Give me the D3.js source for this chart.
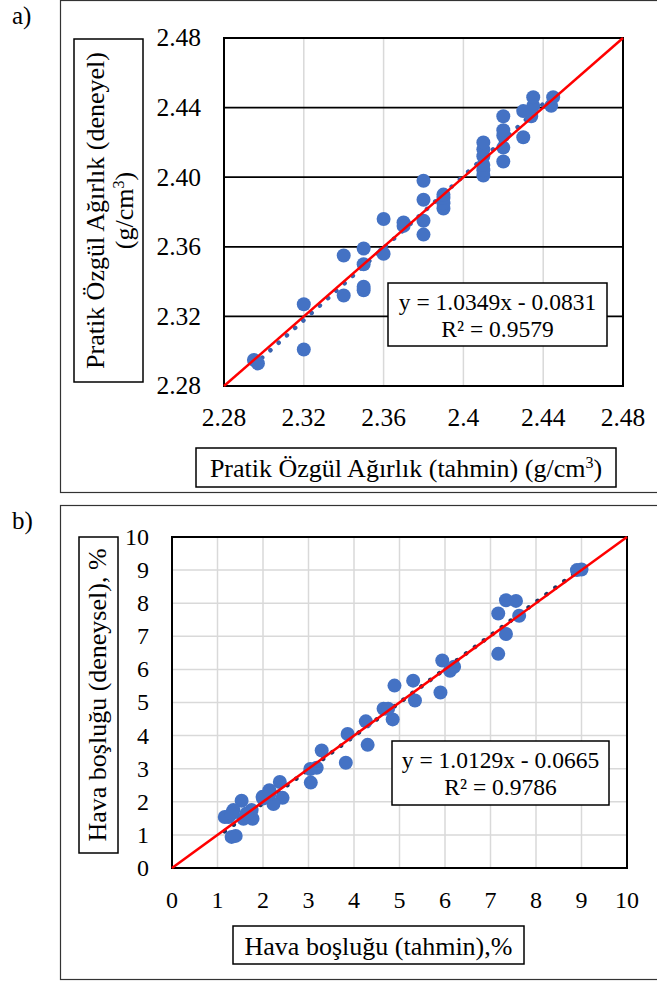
<!DOCTYPE html>
<html>
<head>
<meta charset="utf-8">
<script src="https://cdn.jsdelivr.net/npm/d3@7"></script>
<style>
  body { margin: 0; background: #fff; }
</style>
</head>
<body>
<div id="chart"></div>
<script>
// panel a: pratik ozgul agirlik (tahmin, deneysel)
var aTicksY = ["2.28", "2.32", "2.36", "2.40", "2.44", "2.48"];
var aTicksX = ["2.28", "2.32", "2.36", "2.4", "2.44", "2.48"];
var aPred = [2.295, 2.297, 2.32, 2.32, 2.34, 2.34, 2.35, 2.35, 2.35, 2.35,
             2.36, 2.36, 2.37, 2.37, 2.38, 2.38, 2.38, 2.38, 2.39, 2.39, 2.39, 2.39,
             2.41, 2.41, 2.41, 2.41, 2.41, 2.41, 2.42, 2.42, 2.42, 2.42, 2.42,
             2.43, 2.43, 2.434, 2.435, 2.435, 2.444, 2.445];
var aExp  = [2.295, 2.293, 2.301, 2.327, 2.332, 2.355, 2.335, 2.337, 2.350, 2.359,
             2.356, 2.376, 2.374, 2.372, 2.367, 2.375, 2.387, 2.398, 2.382, 2.385, 2.388, 2.390,
             2.401, 2.404, 2.407, 2.412, 2.416, 2.420, 2.409, 2.417, 2.424, 2.427, 2.435,
             2.423, 2.438, 2.435, 2.441, 2.446, 2.441, 2.446];
var aFit = [1.0349, -0.0831];

// panel b: hava boslugu (tahmin, deneysel)
var bTicks = ["0", "1", "2", "3", "4", "5", "6", "7", "8", "9", "10"];
var bPred = [8.9, 9.0, 7.34, 7.56, 7.17, 7.63, 7.34, 7.17, 5.94, 6.11, 6.2, 5.9,
             5.3, 5.34, 4.89, 4.85, 4.65, 4.75, 4.26, 4.3, 3.86, 3.82,
             3.29, 3.18, 3.04, 3.05, 2.37, 2.43, 2.14, 2.23, 1.99, 2.0, 2.15,
             1.77, 1.75, 1.53, 1.57, 1.35, 1.24, 1.31, 1.4, 1.16, 1.64, 1.31];
var bExp  = [9.0, 9.02, 8.09, 8.07, 7.69, 7.62, 7.07, 6.47, 6.27, 5.96, 6.08, 5.3,
             5.66, 5.06, 5.51, 4.49, 4.81, 4.81, 4.43, 3.72, 4.05, 3.18,
             3.55, 3.03, 2.99, 2.58, 2.6, 2.12, 2.35, 1.93, 2.15, 2.1, 2.25,
             1.49, 1.75, 2.03, 1.49, 1.75, 1.54, 0.94, 0.97, 1.54, 1.65, 1.64];
var bFit = [1.0129, -0.0665];

var W = 657, H = 982;
var FONT = "'Liberation Serif', 'Times New Roman', Times, serif";

var svg = d3.select("#chart").append("svg")
    .attr("width", W)
    .attr("height", H)
    .attr("font-family", FONT);

svg.append("rect").attr("width", W).attr("height", H).attr("fill", "#fff");

function txt(sel, size) {
  return sel.append("text")
      .style("font-family", FONT)
      .style("font-size", size + "px")
      .attr("fill", "#000");
}

function panel(p) {
  var g = svg.append("g");

  // outer frame
  g.append("rect")
      .attr("x", 60.5).attr("y", p.frameTop + 0.5)
      .attr("width", 620).attr("height", p.frameH)
      .attr("fill", "none").attr("stroke", "#333").attr("stroke-width", 1.2);

  txt(g, 25).attr("x", 12).attr("y", p.frameTop + 24).text(p.tag);

  var x = d3.scaleLinear().domain(p.domain).range([p.left, p.right]);
  var y = d3.scaleLinear().domain(p.domain).range([p.bottom, p.top]);

  // vertical grid (gray)
  g.append("g").selectAll("line")
      .data(p.ticksX.slice(1, -1))
      .enter().append("line")
      .attr("x1", function(d) { return x(+d); })
      .attr("x2", function(d) { return x(+d); })
      .attr("y1", p.top).attr("y2", p.bottom)
      .attr("stroke", "#d9d9d9").attr("stroke-width", 1.5);

  // horizontal grid
  g.append("g").selectAll("line")
      .data(p.ticksY.slice(1, -1))
      .enter().append("line")
      .attr("x1", p.left).attr("x2", p.right)
      .attr("y1", function(d) { return y(+d); })
      .attr("y2", function(d) { return y(+d); })
      .attr("stroke", p.hGrid).attr("stroke-width", p.hGridW);

  // plot border
  g.append("rect")
      .attr("x", p.left).attr("y", p.top)
      .attr("width", p.right - p.left).attr("height", p.bottom - p.top)
      .attr("fill", "none").attr("stroke", "#000").attr("stroke-width", 2);

  // tick labels
  p.ticksY.forEach(function(d) {
    txt(g, p.tickSize)
        .attr("x", p.left - p.yLabGap)
        .attr("y", y(+d) + p.tickSize * 0.33)
        .attr("text-anchor", "end")
        .text(d);
  });
  p.ticksX.forEach(function(d) {
    txt(g, p.tickSize)
        .attr("x", x(+d))
        .attr("y", p.xLabY)
        .attr("text-anchor", "middle")
        .text(d);
  });

  // trendline (dotted)
  var x0 = d3.min(p.pred), x1 = d3.max(p.pred);
  g.append("line")
      .attr("x1", x(x0)).attr("y1", y(p.fit[0] * x0 + p.fit[1]))
      .attr("x2", x(x1)).attr("y2", y(p.fit[0] * x1 + p.fit[1]))
      .attr("stroke", p.trendColor).attr("stroke-width", 4.5)
      .attr("stroke-linecap", "round")
      .attr("stroke-dasharray", "0.1,11");

  // points
  g.append("g").selectAll("circle")
      .data(d3.range(p.pred.length))
      .enter().append("circle")
      .attr("cx", function(i) { return x(p.pred[i]); })
      .attr("cy", function(i) { return y(p.exp[i]); })
      .attr("r", 7)
      .attr("fill", "#4472c4");

  // 1:1 line
  g.append("line")
      .attr("x1", x(p.domain[0])).attr("y1", y(p.domain[0]))
      .attr("x2", x(p.domain[1])).attr("y2", y(p.domain[1]))
      .attr("stroke", "#ff0000").attr("stroke-width", 2.5);

  // equation box
  var e = p.eq;
  g.append("rect")
      .attr("x", e.x).attr("y", e.y).attr("width", e.w).attr("height", e.h)
      .attr("fill", "#fff").attr("stroke", "#000").attr("stroke-width", 1.5);
  var cx = e.x + e.w / 2;
  txt(g, 23.5).attr("x", cx).attr("y", e.y + 27)
      .attr("text-anchor", "middle")
      .text("y = " + p.fit[0].toFixed(4) + "x - " + Math.abs(p.fit[1]).toFixed(4));
  txt(g, 23.5).attr("x", cx).attr("y", e.y + 54)
      .attr("text-anchor", "middle")
      .text("R² = " + p.r2);

  // x title
  var xt = p.xTitle;
  g.append("rect")
      .attr("x", xt.x).attr("y", xt.y).attr("width", xt.w).attr("height", xt.h)
      .attr("fill", "#fff").attr("stroke", "#000").attr("stroke-width", 1.5);
  var t = txt(g, 26).attr("x", xt.x + xt.w / 2).attr("y", xt.y + 29)
      .attr("text-anchor", "middle");
  t.append("tspan").text(xt.text);
  if (xt.sup) {
    t.append("tspan").attr("dy", -9).style("font-size", "16px").text("3");
    t.append("tspan").attr("dy", 9).text(")");
  }

  // y title
  var yt = p.yTitle;
  g.append("rect")
      .attr("x", yt.x).attr("y", yt.y).attr("width", yt.w).attr("height", yt.h)
      .attr("fill", "#fff").attr("stroke", "#000").attr("stroke-width", 1.5);
  yt.lines.forEach(function(ln) {
    var tt = txt(g, 26)
        .attr("transform", "translate(" + ln.bx + "," + (yt.y + yt.h / 2) + ") rotate(-90)")
        .attr("text-anchor", "middle");
    tt.append("tspan").text(ln.text);
    if (ln.sup) {
      tt.append("tspan").attr("dy", -9).style("font-size", "16px").text("3");
      tt.append("tspan").attr("dy", 9).text(")");
    }
  });
}

panel({
  tag: "a)", frameTop: 0, frameH: 492,
  domain: [2.28, 2.48], left: 224, right: 623, top: 38, bottom: 386,
  ticksX: aTicksX, ticksY: aTicksY, tickSize: 25.5, yLabGap: 23, xLabY: 426,
  hGrid: "#000", hGridW: 1.8,
  pred: aPred, exp: aExp, fit: aFit, r2: "0.9579", trendColor: "#3a62ad",
  eq: { x: 388, y: 283, w: 219, h: 63 },
  xTitle: { x: 196, y: 448, w: 420, h: 39, text: "Pratik Özgül Ağırlık (tahmin) (g/cm", sup: true },
  yTitle: { x: 74, y: 39, w: 69, h: 343,
            lines: [ { bx: 104, text: "Pratik Özgül Ağırlık (deneyel)" },
                     { bx: 133, text: "(g/cm", sup: true } ] }
});

panel({
  tag: "b)", frameTop: 505, frameH: 474,
  domain: [0, 10], left: 172, right: 627, top: 537, bottom: 868,
  ticksX: bTicks, ticksY: bTicks, tickSize: 24, yLabGap: 23, xLabY: 908,
  hGrid: "#d9d9d9", hGridW: 1.5,
  pred: bPred, exp: bExp, fit: bFit, r2: "0.9786", trendColor: "#1f3864",
  eq: { x: 392, y: 741, w: 217, h: 64 },
  xTitle: { x: 233, y: 926, w: 291, h: 38, text: "Hava boşluğu (tahmin),%" },
  yTitle: { x: 79, y: 537, w: 39, h: 316,
            lines: [ { bx: 106, text: "Hava boşluğu (deneysel), %" } ] }
});
</script>
</body>
</html>
